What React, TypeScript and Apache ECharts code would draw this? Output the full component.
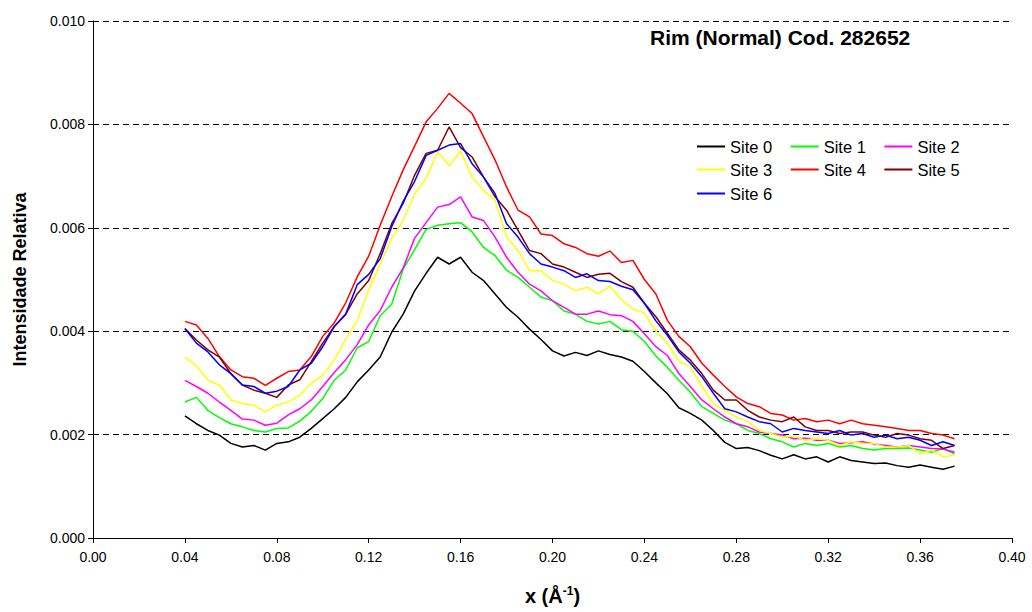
import React, { useEffect, useRef } from "react";
import * as echarts from "echarts";

// x positions (Å^-1)
const X = [
  0.040, 0.045, 0.050, 0.055, 0.060, 0.065, 0.070, 0.075, 0.080, 0.085,
  0.090, 0.095, 0.100, 0.105, 0.110, 0.115, 0.120, 0.125, 0.130, 0.135,
  0.140, 0.145, 0.150, 0.155, 0.160, 0.165, 0.170, 0.175, 0.180, 0.185,
  0.190, 0.195, 0.200, 0.205, 0.210, 0.215, 0.220, 0.225, 0.230, 0.235,
  0.240, 0.245, 0.250, 0.255, 0.260, 0.265, 0.270, 0.275, 0.280, 0.285,
  0.290, 0.295, 0.300, 0.305, 0.310, 0.315, 0.320, 0.325, 0.330, 0.335,
  0.340, 0.345, 0.350, 0.355, 0.360, 0.365, 0.370, 0.375,
];

// relative intensities, in units of 10^-3
const site0 = [
  2.36, 2.21, 2.08, 1.99, 1.83, 1.76, 1.79, 1.70, 1.83, 1.86,
  1.95, 2.12, 2.31, 2.50, 2.72, 3.02, 3.25, 3.50, 3.98, 4.33,
  4.78, 5.12, 5.43, 5.30, 5.43, 5.14, 4.98, 4.72, 4.46, 4.27,
  4.04, 3.84, 3.62, 3.52, 3.59, 3.53, 3.62, 3.55, 3.50, 3.42,
  3.22, 3.00, 2.79, 2.52, 2.41, 2.28, 2.08, 1.85, 1.73, 1.75,
  1.69, 1.60, 1.53, 1.61, 1.53, 1.57, 1.47, 1.57, 1.50, 1.47,
  1.44, 1.45, 1.40, 1.37, 1.41, 1.37, 1.33, 1.39,
];
const site1 = [
  2.63, 2.72, 2.47, 2.33, 2.21, 2.15, 2.08, 2.05, 2.12, 2.13,
  2.26, 2.45, 2.70, 3.05, 3.25, 3.68, 3.80, 4.30, 4.52, 5.20,
  5.58, 5.97, 6.05, 6.08, 6.10, 5.92, 5.62, 5.46, 5.18, 5.04,
  4.85, 4.66, 4.59, 4.39, 4.33, 4.19, 4.14, 4.19, 4.03, 4.00,
  3.80, 3.52, 3.30, 3.05, 2.82, 2.54, 2.41, 2.28, 2.21, 2.08,
  2.02, 1.92, 1.86, 1.76, 1.83, 1.79, 1.83, 1.76, 1.79, 1.73,
  1.70, 1.73, 1.73, 1.74, 1.70, 1.66, 1.73, 1.63,
];
const site2 = [
  3.05, 2.93, 2.80, 2.63, 2.47, 2.30, 2.28, 2.18, 2.22, 2.38,
  2.50, 2.67, 2.93, 3.20, 3.45, 3.74, 4.12, 4.40, 4.85, 5.22,
  5.80, 6.10, 6.40, 6.45, 6.60, 6.21, 6.14, 5.82, 5.43, 5.14,
  4.91, 4.78, 4.59, 4.46, 4.33, 4.33, 4.39, 4.32, 4.30, 4.19,
  3.95, 3.70, 3.53, 3.18, 2.93, 2.67, 2.50, 2.34, 2.21, 2.15,
  2.05, 2.02, 1.99, 1.92, 1.93, 1.89, 1.89, 1.83, 1.84, 1.86,
  1.82, 1.79, 1.76, 1.79, 1.76, 1.73, 1.72, 1.66,
];
const site3 = [
  3.50, 3.33, 3.05, 2.96, 2.67, 2.60, 2.57, 2.44, 2.57, 2.63,
  2.76, 2.99, 3.15, 3.44, 3.85, 4.20, 4.80, 5.30, 5.80, 6.14,
  6.65, 6.96, 7.47, 7.20, 7.48, 6.98, 6.72, 6.53, 5.82, 5.56,
  5.17, 5.17, 4.98, 4.91, 4.78, 4.85, 4.72, 4.87, 4.61, 4.43,
  4.35, 4.00, 3.76, 3.42, 3.31, 2.93, 2.60, 2.47, 2.34, 2.25,
  2.08, 2.02, 1.95, 1.97, 1.89, 1.92, 1.89, 1.79, 1.86, 1.83,
  1.83, 1.76, 1.76, 1.79, 1.63, 1.70, 1.57, 1.60,
];
const site4 = [
  4.19, 4.12, 3.86, 3.51, 3.25, 3.12, 3.09, 2.95, 3.09, 3.22,
  3.25, 3.51, 3.90, 4.16, 4.55, 5.05, 5.45, 6.05, 6.60, 7.12,
  7.58, 8.05, 8.31, 8.60, 8.41, 8.21, 7.76, 7.31, 6.79, 6.34,
  6.21, 5.88, 5.85, 5.69, 5.62, 5.50, 5.45, 5.55, 5.33, 5.37,
  5.00, 4.72, 4.21, 3.90, 3.70, 3.38, 3.15, 2.93, 2.73, 2.60,
  2.54, 2.41, 2.38, 2.28, 2.31, 2.25, 2.28, 2.21, 2.28, 2.21,
  2.18, 2.15, 2.12, 2.08, 2.08, 2.02, 1.99, 1.92,
];
const site5 = [
  4.05, 3.83, 3.64, 3.50, 3.18, 2.96, 2.86, 2.80, 2.72, 2.96,
  3.06, 3.41, 3.77, 4.09, 4.33, 4.72, 4.98, 5.50, 6.08, 6.47,
  7.02, 7.44, 7.50, 7.95, 7.55, 7.37, 6.98, 6.60, 6.34, 5.95,
  5.56, 5.50, 5.30, 5.24, 5.14, 5.04, 5.10, 5.12, 4.96, 4.85,
  4.54, 4.28, 3.96, 3.64, 3.44, 3.18, 2.86, 2.67, 2.67, 2.47,
  2.34, 2.28, 2.25, 2.34, 2.15, 2.08, 2.08, 2.02, 2.05, 2.05,
  1.99, 1.95, 2.02, 1.99, 1.92, 1.89, 1.73, 1.79,
];
const site6 = [
  4.05, 3.77, 3.60, 3.35, 3.18, 2.96, 2.93, 2.80, 2.84, 2.93,
  3.25, 3.38, 3.70, 4.09, 4.33, 4.90, 5.10, 5.40, 6.02, 6.51,
  6.90, 7.40, 7.50, 7.60, 7.63, 7.24, 6.98, 6.66, 6.08, 5.82,
  5.50, 5.30, 5.24, 5.17, 5.04, 5.11, 4.98, 4.96, 4.87, 4.80,
  4.54, 4.20, 3.92, 3.60, 3.38, 3.12, 2.80, 2.50, 2.44, 2.34,
  2.25, 2.21, 2.05, 2.12, 2.08, 2.05, 2.02, 2.08, 1.99, 2.02,
  1.95, 1.99, 1.92, 1.95, 1.89, 1.79, 1.86, 1.79,
];

const seriesNames = ["Site 0", "Site 1", "Site 2", "Site 3", "Site 4", "Site 5", "Site 6"];
const seriesColors = ["#000000", "#00FF00", "#FF00FF", "#FFFF00", "#FF0000", "#800000", "#0000FF"];
const seriesData = [site0, site1, site2, site3, site4, site5, site6];

const FONT = "'Liberation Sans', Arial, sans-serif";

export default function App() {
  const ref = useRef<HTMLDivElement>(null);

  useEffect(() => {
    if (!ref.current) return;
    const chart = echarts.init(ref.current, null, { renderer: "svg" });

    const legendCommon = {
      orient: "horizontal",
      left: 697,
      padding: 0,
      icon: "rect",
      itemWidth: 28,
      itemHeight: 2,
      itemGap: 18.5,
      textStyle: { fontFamily: FONT, fontSize: 16.5, color: "#000" },
      selectedMode: false,
    };

    chart.setOption({
      animation: false,
      backgroundColor: "#ffffff",
      grid: { left: 93, right: 20, top: 21, bottom: 74, containLabel: false, outerBoundsMode: "none" },
      title: {
        text: "Rim (Normal) Cod. 282652",
        left: 650,
        top: 27,
        padding: 0,
        textStyle: { fontFamily: FONT, fontSize: 21, fontWeight: "bold", color: "#000" },
      },
      legend: [
        { ...legendCommon, top: 138, data: ["Site 0", "Site 1", "Site 2"] },
        { ...legendCommon, top: 161, data: ["Site 3", "Site 4", "Site 5"] },
        { ...legendCommon, top: 185, data: ["Site 6"] },
      ],
      xAxis: {
        type: "value",
        min: 0,
        max: 0.4,
        interval: 0.04,
        name: "x (Å{sup|-1})",
        nameLocation: "middle",
        nameGap: 47,
        nameTextStyle: {
          fontFamily: FONT,
          fontSize: 20,
          fontWeight: "bold",
          color: "#000",
          rich: {
            sup: { fontFamily: FONT, fontSize: 12, fontWeight: "bold", color: "#000", verticalAlign: "top", padding: [0, 0, 10, 0] },
          },
        },
        axisLine: { show: true, lineStyle: { color: "#000", width: 1 } },
        axisTick: { show: true, inside: false, length: 5, lineStyle: { color: "#000" } },
        axisLabel: {
          fontFamily: FONT,
          fontSize: 14,
          color: "#000",
          margin: 12,
          formatter: (v: number) => v.toFixed(2),
        },
        splitLine: { show: false },
      },
      yAxis: {
        type: "value",
        min: 0,
        max: 0.01,
        interval: 0.002,
        name: "Intensidade Relativa",
        nameLocation: "middle",
        nameGap: 64,
        nameTextStyle: { fontFamily: FONT, fontSize: 18, fontWeight: "bold", color: "#000" },
        axisLine: { show: true, lineStyle: { color: "#000", width: 1 } },
        axisTick: { show: true, inside: false, length: 5, lineStyle: { color: "#000" } },
        axisLabel: {
          fontFamily: FONT,
          fontSize: 14,
          color: "#000",
          margin: 8,
          formatter: (v: number) => v.toFixed(3),
        },
        splitLine: { show: true, lineStyle: { color: "#000", type: [6, 4], width: 1 } },
      },
      series: seriesData.map((s, k) => ({
        name: seriesNames[k],
        type: "line",
        showSymbol: false,
        symbol: "none",
        color: seriesColors[k],
        lineStyle: { color: seriesColors[k], width: 1.5 },
        data: X.map((x, i) => [x, s[i] / 1000]),
      })),
    });

    return () => chart.dispose();
  }, []);

  return <div ref={ref} style={{ width: 1032, height: 612, position: "absolute", left: 0, top: 0 }} />;
}
